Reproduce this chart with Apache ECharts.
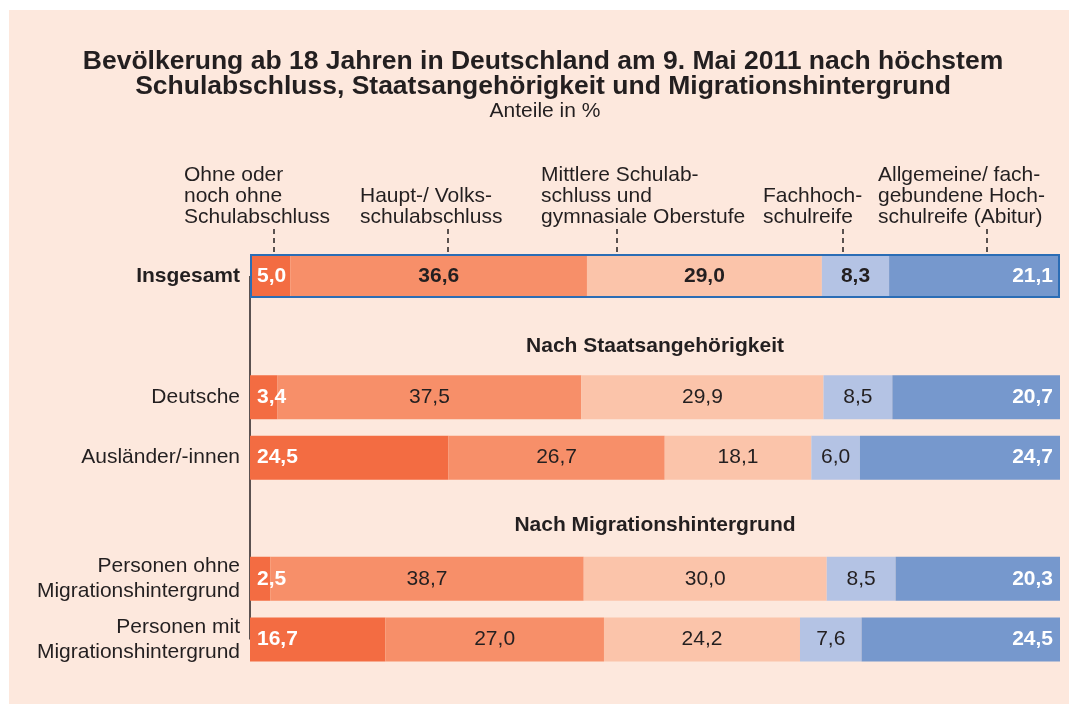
<!DOCTYPE html>
<html>
<head>
<meta charset="utf-8">
<script src="https://cdn.jsdelivr.net/npm/echarts@6/dist/echarts.min.js"></script>
<style>
html,body{margin:0;padding:0;background:#fff;}
#chart{width:1069px;height:704px;}
</style>
</head>
<body>
<div id="chart"></div>
<script>
// ---- data ----
const categories = ['Insgesamt', 'Nach Staatsangehörigkeit', 'Deutsche', 'Ausländer/-innen',
  'Nach Migrationshintergrund', 'Personen ohne\nMigrationshintergrund', 'Personen mit\nMigrationshintergrund'];
const headingRows = ['Nach Staatsangehörigkeit', 'Nach Migrationshintergrund'];
const seriesNames = ['Ohne oder\nnoch ohne\nSchulabschluss', 'Haupt-/ Volks-\nschulabschluss',
  'Mittlere Schulab-\nschluss und\ngymnasiale Oberstufe', 'Fachhoch-\nschulreife',
  'Allgemeine/ fach-\ngebundene Hoch-\nschulreife (Abitur)'];
const ohne     = [5.0, null, 3.4, 24.5, null, 2.5, 16.7];
const haupt    = [36.6, null, 37.5, 26.7, null, 38.7, 27.0];
const mittlere = [29.0, null, 29.9, 18.1, null, 30.0, 24.2];
const fachhoch = [8.3, null, 8.5, 6.0, null, 8.5, 7.6];
const abitur   = [21.1, null, 20.7, 24.7, null, 20.3, 24.5];
const totalRow = 'Insgesamt';

// ---- styles ----
const FONT = "'Liberation Sans', Arial, Helvetica, sans-serif";
const TXT = '#231f20';
const colors = ['#f36c42', '#f78f69', '#fbc4aa', '#b4c3e4', '#7698cd'];
const headingOffsetY = [10, 7];
const values = [ohne, haupt, mittlere, fachhoch, abitur];
const fmt = v => v.toFixed(1).replace('.', ',');

const chart = echarts.init(document.getElementById('chart'), null, {renderer: 'canvas'});

const barSeries = values.map((arr, i) => {
  const first = i === 0, last = i === values.length - 1;
  const label = {
    show: true,
    position: first ? 'insideLeft' : (last ? 'insideRight' : 'inside'),
    distance: 7,
    fontFamily: FONT,
    fontSize: 21,
    color: (first || last) ? '#ffffff' : TXT,
    fontWeight: (first || last) ? 'bold' : 'normal',
    formatter: p => fmt(p.value)
  };
  return {
    type: 'bar',
    name: seriesNames[i],
    stack: 'total',
    barWidth: 44,
    barGap: '-100%',
    z: 2,
    silent: true,
    itemStyle: {color: colors[i]},
    label: label,
    data: arr.map((v, r) => {
      if (v == null) return '-';
      if (categories[r] === totalRow && !first && !last) {
        return {value: v, label: {fontWeight: 'bold'}};
      }
      return v;
    })
  };
});

const headingSeries = {
  type: 'bar',
  name: 'heading',
  stack: 'heading',
  barWidth: 44,
  barGap: '-100%',
  z: 1,
  silent: true,
  itemStyle: {color: 'rgba(0,0,0,0)'},
  label: {
    show: true, position: 'inside',
    fontFamily: FONT, fontSize: 21, fontWeight: 'bold', color: TXT,
    formatter: p => p.name
  },
  data: categories.map(c => {
    const h = headingRows.indexOf(c);
    return h >= 0 ? {value: 100, label: {offset: [0, headingOffsetY[h]]}} : '-';
  }),
  markLine: {
    silent: true, symbol: ['none', 'none'], z: 1, animation: false,
    label: {show: false},
    lineStyle: {color: TXT, width: 1.5, type: 'solid'},
    data: [[{coord: [0, categories[0]]}, {coord: [0, categories[categories.length - 1]]}]]
  }
};

const frameSeries = {
  type: 'bar',
  name: 'frame',
  stack: 'frame',
  barWidth: 44,
  barGap: '-100%',
  z: 3,
  silent: true,
  itemStyle: {color: 'rgba(0,0,0,0)', borderColor: '#2b6db5', borderWidth: 2},
  data: categories.map(c => c === totalRow ? 100 : '-')
};

// callout (legend) annotations above the total bar
const calloutLeft = [184, 360, 541, 763, 878];
const calloutLine = [274, 448, 617, 843, 987];
const graphics = [{
  type: 'rect', z: -10, silent: true,
  shape: {x: 9, y: 10, width: 1060, height: 694},
  style: {fill: '#fde8dd'}
}];
seriesNames.forEach((n, i) => {
  graphics.push({
    type: 'text', silent: true,
    style: {text: n, x: calloutLeft[i], y: 228, align: 'left', verticalAlign: 'bottom',
      font: '21px ' + FONT, fill: TXT, lineHeight: 21}
  });
  graphics.push({
    type: 'line', silent: true,
    shape: {x1: calloutLine[i], y1: 229, x2: calloutLine[i], y2: 254},
    style: {stroke: TXT, lineWidth: 1.5, lineDash: [5, 4]}
  });
});

chart.setOption({
  backgroundColor: '#ffffff',
  animation: false,
  textStyle: {fontFamily: FONT},
  title: [{
    text: 'Bevölkerung ab 18 Jahren in Deutschland am 9. Mai 2011 nach höchstem\nSchulabschluss, Staatsangehörigkeit und Migrationshintergrund',
    left: 538, top: 44, textAlign: 'center',
    textStyle: {fontFamily: FONT, fontSize: 26.5, fontWeight: 'bold', color: TXT, lineHeight: 25}
  }, {
    text: 'Anteile in %',
    left: 540, top: 95, textAlign: 'center',
    textStyle: {fontFamily: FONT, fontSize: 21, fontWeight: 'normal', color: TXT, lineHeight: 22}
  }],
  grid: {left: 250, right: 9, top: 245.7, bottom: 34.3, containLabel: false},
  xAxis: {type: 'value', min: 0, max: 100, show: false},
  yAxis: {
    type: 'category', inverse: true, data: categories,
    axisLine: {show: false}, axisTick: {show: false}, splitLine: {show: false},
    axisLabel: {
      margin: 10, fontFamily: FONT, fontSize: 21, color: TXT, lineHeight: 25, align: 'right',
      formatter: v => headingRows.includes(v) ? '' : (v === totalRow ? '{b|' + v + '}' : v),
      rich: {b: {fontWeight: 'bold', fontFamily: FONT, fontSize: 21, color: TXT}}
    }
  },
  graphic: graphics,
  series: [headingSeries].concat(barSeries, [frameSeries])
});
</script>
</body>
</html>
